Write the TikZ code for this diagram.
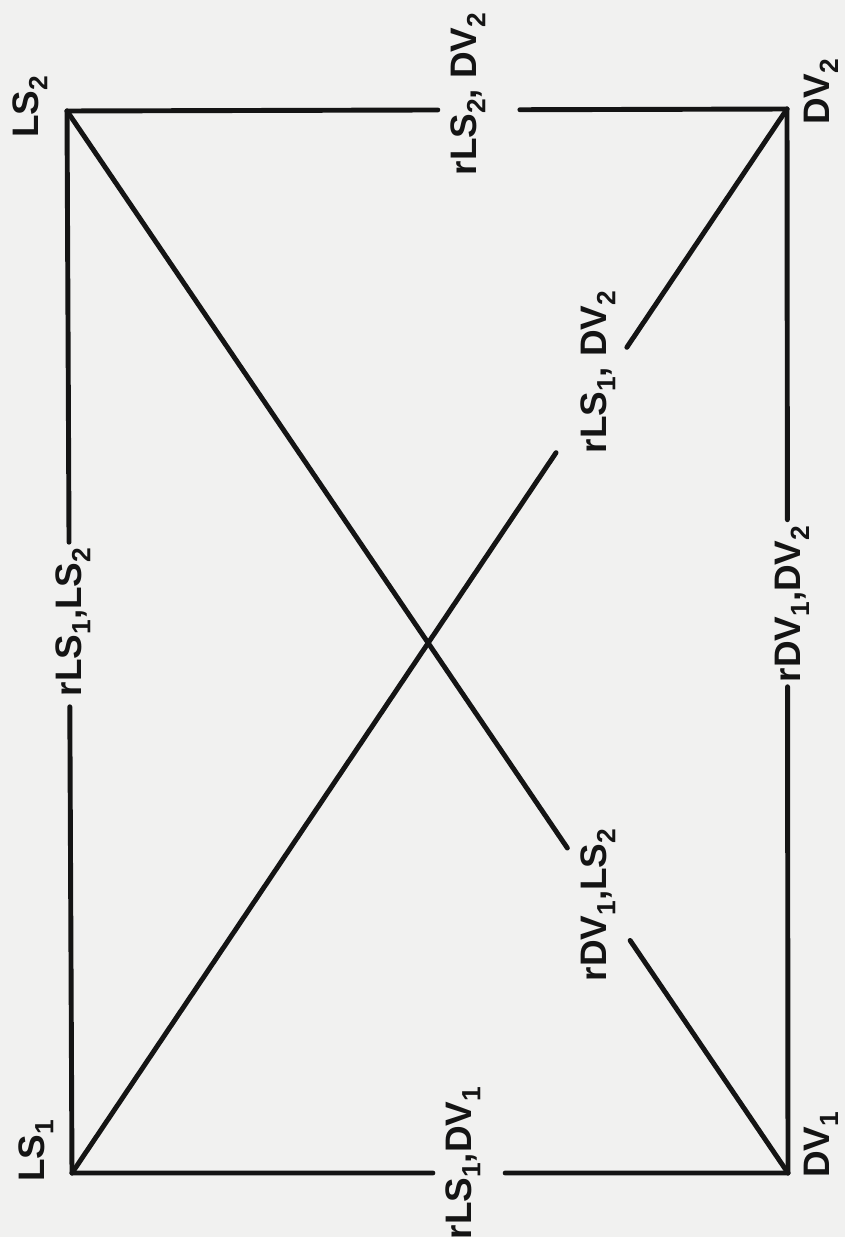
\documentclass[tikz,border=0pt]{standalone}
\usepackage{fontspec}
\setmainfont{Liberation Sans}
\usetikzlibrary{calc}
\definecolor{paper}{HTML}{F1F1F0}
\definecolor{ink}{HTML}{141414}
\newcommand{\lsb}[1]{\raisebox{-0.45ex}{\fontsize{15}{16}\selectfont #1}}

\begin{document}
\begin{tikzpicture}[x=0.02cm, y=-0.02cm,
    edge/.style={draw=ink, line width=2.8pt, line cap=round},
    lbl/.style={rotate=90, inner sep=0pt, text=ink,
                font=\fontsize{21}{23}\selectfont\bfseries}
]

% --- page ---
\fill[paper] (0,0) rectangle (845,1237);
\useasboundingbox (0,0) rectangle (845,1237);

% --- corners ---
\coordinate (ls2) at (67,111);
\coordinate (dv2) at (787,109);
\coordinate (ls1) at (72,1173);
\coordinate (dv1) at (788,1173);

% --- corner labels ---
\node[lbl] (ls2lbl) at (30,107)   {LS\lsb{2}};
\node[lbl] (dv2lbl) at (821,92)   {DV\lsb{2}};
\node[lbl] (ls1lbl) at (36,1151)  {LS\lsb{1}};
\node[lbl] (dv1lbl) at (821,1145) {DV\lsb{1}};

% --- edge labels ---
\node[lbl] (toplbl)   at (468,94)   {rLS\lsb{2}, DV\lsb{2}};
\node[lbl] (botlbl)   at (463,1163) {rLS\lsb{1},DV\lsb{1}};
\node[lbl] (leftlbl)  at (73,622)   {rLS\lsb{1},LS\lsb{2}};
\node[lbl] (rightlbl) at (792,604)  {rDV\lsb{1},DV\lsb{2}};
\node[lbl] (uplbl)    at (598,372)  {rLS\lsb{1}, DV\lsb{2}};
\node[lbl] (lowlbl)   at (598,905)  {rDV\lsb{1},LS\lsb{2}};

% --- gap ends ---
\coordinate (top-a)   at ($(ls2)!0.515!(dv2)$);
\coordinate (top-b)   at ($(ls2)!0.629!(dv2)$);
\coordinate (bot-a)   at ($(ls1)!0.504!(dv1)$);
\coordinate (bot-b)   at ($(ls1)!0.605!(dv1)$);
\coordinate (left-a)  at ($(ls1)!0.439!(ls2)$);
\coordinate (left-b)  at ($(ls1)!0.594!(ls2)$);
\coordinate (right-a) at ($(dv1)!0.457!(dv2)$);
\coordinate (right-b) at ($(dv1)!0.614!(dv2)$);
\coordinate (low-a)   at ($(ls2)!0.694!(dv1)$);
\coordinate (low-b)   at ($(ls2)!0.781!(dv1)$);
\coordinate (up-a)    at ($(ls1)!0.677!(dv2)$);
\coordinate (up-b)    at ($(ls1)!0.776!(dv2)$);

% --- rectangle ---
\draw[edge] (ls2) -- (top-a);
\draw[edge] (top-b) -- (dv2);
\draw[edge] (ls1) -- (bot-a);
\draw[edge] (bot-b) -- (dv1);
\draw[edge] (ls1) -- (left-a);
\draw[edge] (left-b) -- (ls2);
\draw[edge] (dv1) -- (right-a);
\draw[edge] (right-b) -- (dv2);

% --- diagonals ---
\draw[edge] (ls2) -- (low-a);
\draw[edge] (low-b) -- (dv1);
\draw[edge] (ls1) -- (up-a);
\draw[edge] (up-b) -- (dv2);

\end{tikzpicture}
\end{document}
